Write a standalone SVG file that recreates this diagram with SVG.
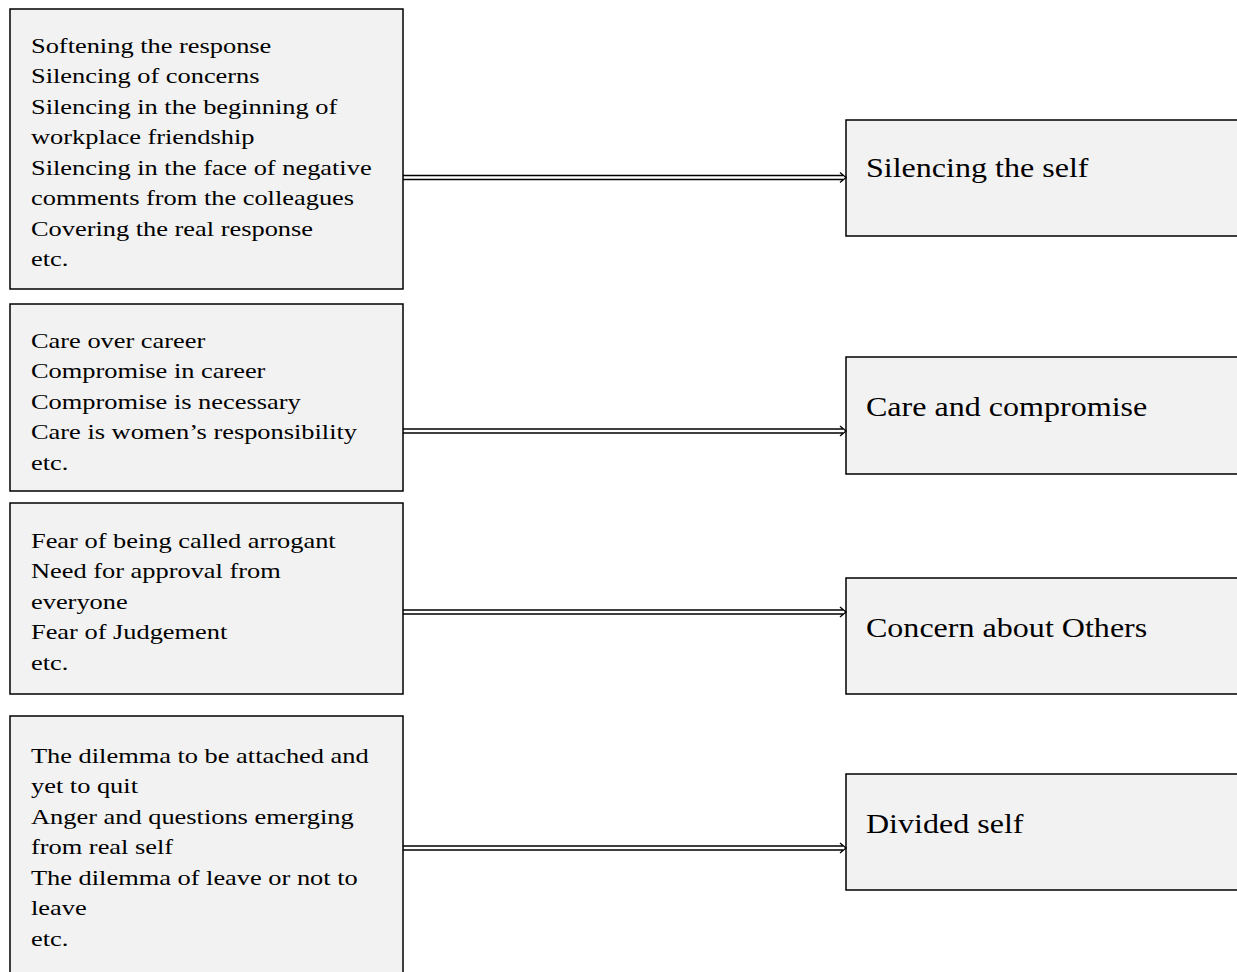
<svg xmlns="http://www.w3.org/2000/svg" width="1237" height="972" viewBox="0 0 1237 972">
<style>
.box{fill:#f2f2f2;stroke:#000;stroke-width:1.5}
.t{font-family:"Liberation Serif","Times New Roman",serif;font-size:22px;fill:#000}
.r{font-family:"Liberation Serif","Times New Roman",serif;font-size:26.5px;fill:#000}
.ln{stroke:#000;stroke-width:1.3;fill:none}
</style>
<rect width="1237" height="972" fill="#fff"/>
<g id="src1"><rect class="box" x="10" y="9" width="393" height="280"/>
<g transform="matrix(1.2 0 0 1 -6.2 0)">
<text class="t" x="31" y="53">Softening the response</text>
<text class="t" x="31" y="83.5">Silencing of concerns</text>
<text class="t" x="31" y="114">Silencing in the beginning of</text>
<text class="t" x="31" y="144.5">workplace friendship</text>
<text class="t" x="31" y="175">Silencing in the face of negative</text>
<text class="t" x="31" y="205.5">comments from the colleagues</text>
<text class="t" x="31" y="236">Covering the real response</text>
<text class="t" x="31" y="266.5">etc.</text></g></g>
<g id="src2"><rect class="box" x="10" y="304" width="393" height="187"/>
<g transform="matrix(1.2 0 0 1 -6.2 0)">
<text class="t" x="31" y="348">Care over career</text>
<text class="t" x="31" y="378.5">Compromise in career</text>
<text class="t" x="31" y="409">Compromise is necessary</text>
<text class="t" x="31" y="439.5">Care is women’s responsibility</text>
<text class="t" x="31" y="470">etc.</text></g></g>
<g id="src3"><rect class="box" x="10" y="503" width="393" height="191"/>
<g transform="matrix(1.2 0 0 1 -6.2 0)">
<text class="t" x="31" y="548">Fear of being called arrogant</text>
<text class="t" x="31" y="578.5">Need for approval from</text>
<text class="t" x="31" y="609">everyone</text>
<text class="t" x="31" y="639.5">Fear of Judgement</text>
<text class="t" x="31" y="670">etc.</text></g></g>
<g id="src4"><rect class="box" x="10" y="716" width="393" height="300"/>
<g transform="matrix(1.2 0 0 1 -6.2 0)">
<text class="t" x="31" y="763">The dilemma to be attached and</text>
<text class="t" x="31" y="793.5">yet to quit</text>
<text class="t" x="31" y="824">Anger and questions emerging</text>
<text class="t" x="31" y="854.5">from real self</text>
<text class="t" x="31" y="885">The dilemma of leave or not to</text>
<text class="t" x="31" y="915.5">leave</text>
<text class="t" x="31" y="946">etc.</text></g></g>
<g id="dst1"><rect class="box" x="846" y="120" width="420" height="116"/>
<text class="r" x="866" y="177" transform="matrix(1.21 0 0 1 -181.9 0)">Silencing the self</text></g>
<g id="dst2"><rect class="box" x="846" y="357" width="420" height="117"/>
<text class="r" x="866" y="416" transform="matrix(1.21 0 0 1 -181.9 0)">Care and compromise</text></g>
<g id="dst3"><rect class="box" x="846" y="578" width="420" height="116"/>
<text class="r" x="866" y="637" transform="matrix(1.21 0 0 1 -181.9 0)">Concern about Others</text></g>
<g id="dst4"><rect class="box" x="846" y="774" width="420" height="116"/>
<text class="r" x="866" y="833" transform="matrix(1.21 0 0 1 -181.9 0)">Divided self</text></g>
<g id="connectors">
<path class="ln" d="M403,175.5H843M403,179.5H843M840,172.5L846,177.5L840,182.5"/>
<path class="ln" d="M403,429H843M403,433H843M840,426L846,431L840,436"/>
<path class="ln" d="M403,610H843M403,614H843M840,607L846,612L840,617"/>
<path class="ln" d="M403,846H843M403,850H843M840,843L846,848L840,853"/>
</g>
</svg>
